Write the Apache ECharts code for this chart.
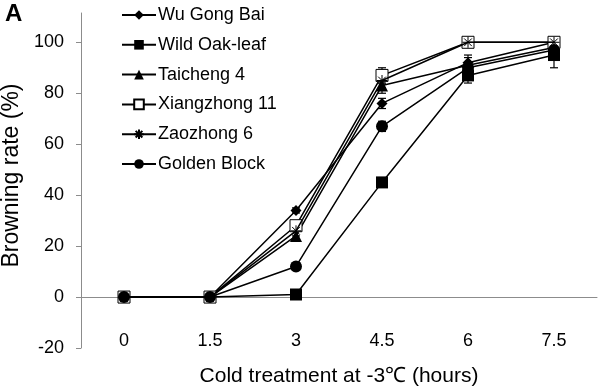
<!DOCTYPE html>
<html>
<head>
<meta charset="utf-8">
<script src="https://cdn.jsdelivr.net/npm/echarts@6/dist/echarts.min.js"></script>
<style>html,body{margin:0;padding:0;background:#fff}#c{width:600px;height:389px}</style>
</head>
<body>
<div id="c"></div>
<script>
const categories = ['0', '1.5', '3', '4.5', '6', '7.5'];
const yTicks = [-20, 0, 20, 40, 60, 80, 100];
const seriesNames = ['Wu Gong Bai', 'Wild Oak-leaf', 'Taicheng 4', 'Xiangzhong 11', 'Zaozhong 6', 'Golden Block'];
const wuGongBai = [0, 0, 34, 76, 92, 100];
const wildOakLeaf = [0, 0, 1, 45, 87, 95];
const taicheng4 = [0, 0, 24, 83, 91, 98];
const xiangzhong11 = [0, 0, 28, 87, 100, 100];
const zaozhong6 = [0, 0, 26, 85, 100, 100];
const goldenBlock = [0, 0, 12, 67, 90, 97];
const errWuGongBai = [0, 0, 1, 2, 3, 1];
const errWildOakLeaf = [0, 0, 1, 1, 3, 5];
const errTaicheng4 = [0, 0, 2, 3, 3, 2];
const errXiangzhong11 = [0, 0, 2, 3, 1, 0];
const errZaozhong6 = [0, 0, 2, 3, 1, 0];
const errGoldenBlock = [0, 0, 1, 2, 2, 2];

const values = [wuGongBai, wildOakLeaf, taicheng4, xiangzhong11, zaozhong6, goldenBlock];
const errors = [errWuGongBai, errWildOakLeaf, errTaicheng4, errXiangzhong11, errZaozhong6, errGoldenBlock];
const symbols = ['diamond', 'rect', 'triangle', 'rect', 'path://M0,5L10,5M5,0L5,10M1.5,1.5L8.5,8.5M8.5,1.5L1.5,8.5', 'circle'];
const sizes = [11, 12, 12, 12, 11, 12];
const fills = ['#000', '#000', '#000', '#fff', '#000', '#000'];

const errData = [];
values.forEach((vals, s) => {
  vals.forEach((v, i) => {
    const e = errors[s][i];
    if (e > 0) errData.push([i, v - e, v + e]);
  });
});

const series = [];
series.push({
  type: 'custom',
  name: 'err',
  data: errData,
  z: 1,
  silent: true,
  renderItem: function (params, api) {
    const x = api.value(0);
    const lo = api.coord([x, api.value(1)]);
    const hi = api.coord([x, api.value(2)]);
    const w = 4;
    const st = { stroke: '#000', lineWidth: 1.2 };
    return {
      type: 'group',
      children: [
        { type: 'line', shape: { x1: lo[0], y1: lo[1], x2: hi[0], y2: hi[1] }, style: st },
        { type: 'line', shape: { x1: lo[0] - w, y1: lo[1], x2: lo[0] + w, y2: lo[1] }, style: st },
        { type: 'line', shape: { x1: hi[0] - w, y1: hi[1], x2: hi[0] + w, y2: hi[1] }, style: st }
      ]
    };
  }
});
seriesNames.forEach((name, s) => {
  series.push({
    type: 'line',
    name: name,
    data: values[s],
    symbol: symbols[s],
    symbolSize: sizes[s],
    showAllSymbol: true,
    z: 2 + s,
    lineStyle: { color: '#000', width: 1.5 },
    itemStyle: { color: fills[s], borderColor: '#000', borderWidth: s === 3 || s === 4 ? 1 : 0 },
    emphasis: { disabled: true },
    animation: false
  });
});

const chart = echarts.init(document.getElementById('c'), null, { renderer: 'canvas' });
chart.setOption({
  animation: false,
  backgroundColor: '#fff',
  textStyle: { fontFamily: 'Liberation Sans, Arial, sans-serif' },
  title: {
    text: 'A', left: 0, top: -3,
    textStyle: { fontSize: 24, fontWeight: 'bold', color: '#000', fontFamily: 'Liberation Sans, Arial, sans-serif' }
  },
  legend: {
    data: seriesNames,
    orient: 'vertical',
    left: 116, top: 1,
    itemWidth: 34, itemHeight: 12,
    itemGap: 11.8,
    textStyle: { fontSize: 18, color: '#000', padding: [0, 0, 0, -3] }
  },
  grid: { left: 81, right: 3, top: 13, bottom: 41, containLabel: false, outerBoundsMode: 'none' },
  xAxis: {
    type: 'category',
    data: categories,
    boundaryGap: true,
    offset: -27.5,
    axisLine: { show: true, lineStyle: { color: '#8c8c8c', width: 1 } },
    axisTick: { show: false },
    axisLabel: { fontSize: 18, color: '#000', margin: 12 },
    name: 'Cold treatment at -3℃ (hours)',
    nameLocation: 'middle',
    nameGap: 45,
    nameTextStyle: { fontSize: 21, color: '#000' }
  },
  yAxis: {
    type: 'value',
    min: -20, max: 111.5, interval: 20,
    splitLine: { show: false },
    axisLine: { show: true, lineStyle: { color: '#8c8c8c', width: 1 } },
    axisTick: { show: true, length: 5, customValues: yTicks, lineStyle: { color: '#8c8c8c' } },
    axisLabel: { fontSize: 18, color: '#000', margin: 17, customValues: yTicks },
    name: 'Browning rate (%)',
    nameLocation: 'middle',
    nameGap: 53,
    nameTextStyle: { fontSize: 23, color: '#000', padding: [0, 0, 0, 10] }
  },
  series: series
});
</script>
</body>
</html>
